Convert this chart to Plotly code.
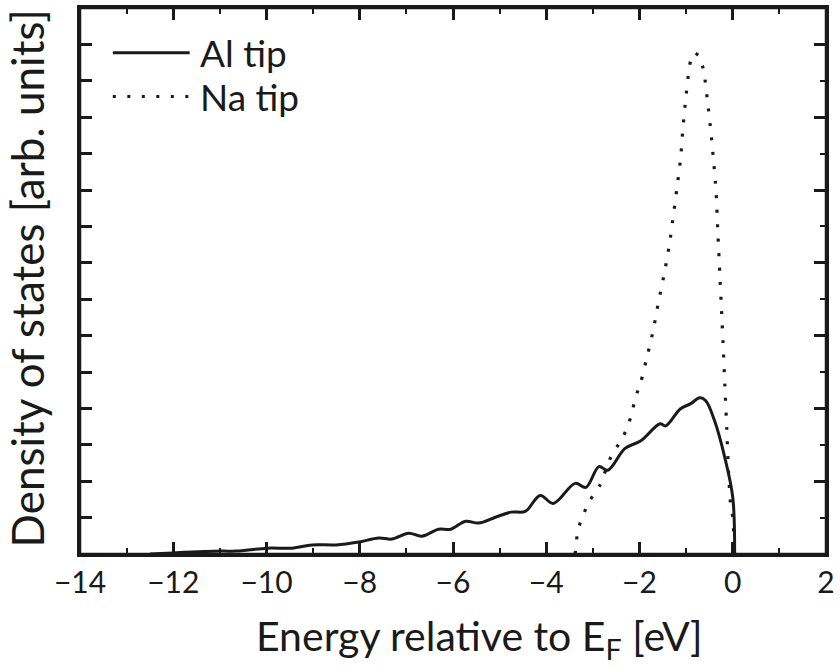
import plotly.graph_objects as go

# Al tip DOS (solid)
al_x = [-12.50, -12.01, -10.97, -10.65, -9.98, -9.45, -9.02, -8.51, -8.02, -7.59,
        -7.31, -6.95, -6.67, -6.31, -6.05, -5.73, -5.45, -5.09, -4.75, -4.45,
        -4.13, -3.85, -3.38, -3.15, -2.87, -2.68, -2.31, -1.97, -1.56, -1.44,
        -1.12, -0.90, -0.71, -0.58, -0.39, -0.17, 0.00, 0.04]
al_y = [0.00, 0.03, 0.08, 0.08, 0.16, 0.16, 0.25, 0.25, 0.33, 0.44,
        0.41, 0.57, 0.49, 0.68, 0.68, 0.90, 0.85, 1.01, 1.15, 1.17,
        1.61, 1.39, 1.94, 1.83, 2.40, 2.30, 2.90, 3.11, 3.58, 3.52,
        3.99, 4.13, 4.29, 4.21, 3.66, 2.65, 1.56, 0.00]

# Na tip DOS (dotted)
na_x = [-3.38, -3.32, -3.21, -3.06, -2.85, -2.61, -2.40, -2.25, -2.16, -2.08,
        -1.97, -1.86, -1.71, -1.59, -1.46, -1.35, -1.20, -1.12, -1.07, -1.01,
        -0.94, -0.88, -0.82, -0.71, -0.62, -0.54, -0.47, -0.41, -0.36, -0.32,
        -0.28, -0.24, -0.20, -0.17, -0.13, -0.09, -0.05, 0.00, 0.02, 0.04]
na_y = [0.00, 0.66, 1.07, 1.48, 1.89, 2.68, 3.11, 3.50, 3.91, 4.32,
        4.73, 5.30, 6.12, 6.94, 7.76, 8.58, 10.03, 10.85, 11.67, 12.49,
        13.28, 13.69, 13.77, 13.66, 13.25, 12.43, 11.61, 10.79, 10.00, 8.85,
        7.76, 6.67, 5.57, 4.67, 3.47, 2.24, 1.42, 1.01, 0.60, 0.00]

x_ticks = [-14, -12, -10, -8, -6, -4, -2, 0, 2]
x_tick_labels = ["\u221214", "\u221212", "\u221210", "\u22128", "\u22126", "\u22124", "\u22122", "0", "2"]
series_names = ["Al tip", "Na tip"]

INK = "#1a1a1a"
DOTS = "3px,11.5px"

fig = go.Figure()
fig.add_trace(go.Scatter(x=al_x, y=al_y, mode="lines", name=series_names[0],
                         line=dict(color=INK, width=3, shape="spline", smoothing=1.0),
                         showlegend=False))
fig.add_trace(go.Scatter(x=na_x, y=na_y, mode="lines", name=series_names[1], xaxis="x2", yaxis="y2",
                         line=dict(color=INK, width=3.2, dash=DOTS, shape="spline", smoothing=0.6),
                         showlegend=False))

axis_common = dict(showline=True, linewidth=2.5, linecolor=INK, showgrid=False, zeroline=False,
                   ticks="inside", tickcolor=INK)
minor_x = dict(dtick=1, tick0=-14, ticklen=6, tickwidth=2, ticks="inside", tickcolor=INK)
minor_y = dict(dtick=1, tick0=0, ticklen=6, tickwidth=2, ticks="inside", tickcolor=INK)

fig.update_layout(
    width=840, height=668,
    margin=dict(l=80, r=11, t=5, b=114),
    paper_bgcolor="white", plot_bgcolor="white",
    xaxis=dict(range=[-14, 2], tickvals=x_ticks, ticktext=x_tick_labels, ticklen=12, tickwidth=2.5,
               mirror="allticks", minor=minor_x,
               tickfont=dict(family="Lato", size=30, color=INK), **axis_common),
    xaxis2=dict(range=[-14, 2], tickvals=x_ticks, ticklen=12, tickwidth=2.5, showticklabels=False,
                overlaying="x", side="top", anchor="y", minor=minor_x, **axis_common),
    yaxis=dict(range=[0, 15], dtick=1, tick0=0, ticklen=12, tickwidth=2.5, showticklabels=False,
               **axis_common),
    yaxis2=dict(range=[0, 15], dtick=2, tick0=0, ticklen=12, tickwidth=2.5, showticklabels=False,
                overlaying="y", side="right", anchor="x", minor=minor_y, **axis_common),
)

# plot frame
fig.add_shape(type="rect", xref="paper", yref="paper", x0=0, x1=1, y0=0, y1=1,
              line=dict(color=INK, width=2.5), layer="above")

fig.add_annotation(text="Energy relative to E<sub>F</sub> [eV]", xref="paper", yref="paper",
                   x=0.536, y=-0.1, xanchor="center", yanchor="top", showarrow=False,
                   font=dict(family="Lato", size=41, color=INK))
fig.add_annotation(text="Density of states [arb. units]", xref="paper", yref="paper",
                   x=-0.0708, y=0.505, xanchor="center", yanchor="middle", textangle=-90,
                   showarrow=False, font=dict(family="Lato", size=44, color=INK))

# legend drawn manually
leg_font = dict(family="Lato", size=37, color=INK)
leg_rows = [0.918, 0.838]
leg_dash = ["solid", DOTS]
for name, yy, dsh in zip(series_names, leg_rows, leg_dash):
    fig.add_shape(type="line", xref="paper", yref="paper", x0=0.044, x1=0.147, y0=yy, y1=yy,
                  line=dict(color=INK, width=3, dash=dsh))
    fig.add_annotation(text=name, xref="paper", yref="paper", x=0.158, y=yy, xanchor="left",
                       yanchor="middle", showarrow=False, font=leg_font)

fig.write_html("out.html")
